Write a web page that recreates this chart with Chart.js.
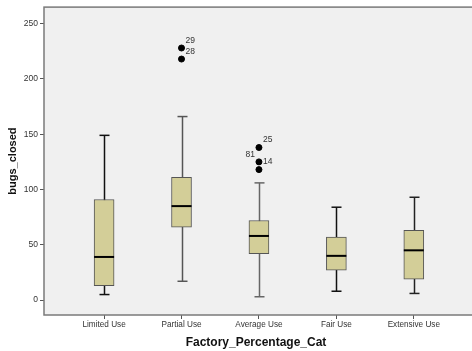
<!DOCTYPE html>
<html>
<head>
<meta charset="utf-8">
<script src="https://cdn.jsdelivr.net/npm/chart.js@4/dist/chart.umd.min.js"></script>
<style>
  body { margin: 0; background: #fff; }
</style>
</head>
<body>
<canvas id="boxChart" width="472" height="351"></canvas>
<script>
// Data
const categories = ['Limited Use', 'Partial Use', 'Average Use', 'Fair Use', 'Extensive Use'];
const whiskerLow = [5, 17, 3, 8, 6];
const q1 = [13, 66, 42, 27, 19];
const median = [39, 85, 58, 40, 45];
const q3 = [91, 111, 72, 57, 63];
const whiskerHigh = [149, 166, 106, 84, 93];

const outlierCat = [1, 1, 2, 2, 2];
const outlierValues = [228, 218, 138, 125, 118];
const outlierLabels = ['29', '28', '25', '81', '14'];
const outlierLabelLeft = [false, false, false, true, false];

const yTicks = [0, 50, 100, 150, 200, 250];

const whiskerColors = ['#111', '#555', '#666', '#111', '#222'];

// Whiskers, medians, plot background and outlier labels
const boxPlugin = {
  id: 'boxParts',
  beforeDraw(chart) {
    const { ctx, chartArea: a } = chart;
    ctx.save();
    ctx.fillStyle = '#f0f0f0';
    ctx.fillRect(a.left, a.top, chart.width - a.left, a.bottom - a.top);
    ctx.restore();
  },
  beforeDatasetsDraw(chart) {
    const { ctx } = chart;
    const x = chart.scales.x, y = chart.scales.y;
    ctx.save();
    ctx.lineWidth = 1.5;
    categories.forEach((c, i) => {
      const px = Math.round(x.getPixelForValue(i)) + 0.5;
      ctx.strokeStyle = whiskerColors[i];
      ctx.beginPath();
      ctx.moveTo(px, y.getPixelForValue(whiskerLow[i]));
      ctx.lineTo(px, y.getPixelForValue(whiskerHigh[i]));
      ctx.stroke();
      [whiskerLow[i], whiskerHigh[i]].forEach(v => {
        const py = y.getPixelForValue(v);
        ctx.beginPath();
        ctx.moveTo(px - 5, py);
        ctx.lineTo(px + 5, py);
        ctx.stroke();
      });
    });
    ctx.restore();
  },
  afterDatasetsDraw(chart) {
    const { ctx, chartArea: a } = chart;
    const x = chart.scales.x, y = chart.scales.y;
    ctx.save();
    ctx.strokeStyle = '#000';
    ctx.lineWidth = 2;
    categories.forEach((c, i) => {
      const px = x.getPixelForValue(i);
      const py = y.getPixelForValue(median[i]);
      ctx.beginPath();
      ctx.moveTo(px - 10, py);
      ctx.lineTo(px + 10, py);
      ctx.stroke();
    });
    // outlier case numbers
    const meta = chart.getDatasetMeta(1);
    ctx.font = '8.5px "Liberation Sans", Arial, sans-serif';
    ctx.fillStyle = '#333';
    ctx.textBaseline = 'middle';
    meta.data.forEach((pt, i) => {
      if (outlierLabelLeft[i]) {
        ctx.textAlign = 'right';
        ctx.fillText(outlierLabels[i], pt.x - 4, pt.y - 7.5);
      } else {
        ctx.textAlign = 'left';
        ctx.fillText(outlierLabels[i], pt.x + 4, pt.y - 7.5);
      }
    });
    // frame (right side runs off the picture)
    ctx.strokeStyle = '#7a7a7a';
    ctx.lineWidth = 1.5;
    ctx.strokeRect(a.left, a.top, chart.width + 10 - a.left, a.bottom - a.top);
    ctx.restore();
  }
};

new Chart(document.getElementById('boxChart'), {
  type: 'bar',
  data: {
    datasets: [{
      label: 'Box',
      data: categories.map((c, i) => ({ x: i, y: [q1[i], q3[i]] })),
      backgroundColor: '#d3ce98',
      borderColor: '#555',
      borderWidth: 1,
      borderSkipped: false,
      barThickness: 20
    }, {
      type: 'scatter',
      label: 'Outliers',
      data: outlierValues.map((v, i) => ({ x: outlierCat[i], y: v })),
      backgroundColor: '#000',
      borderColor: '#000',
      pointRadius: 3,
      pointHoverRadius: 3
    }]
  },
  options: {
    responsive: false,
    animation: false,
    layout: { padding: { top: 7, right: 0, left: 0, bottom: 0 } },
    plugins: {
      legend: { display: false },
      tooltip: { enabled: false }
    },
    scales: {
      x: {
        type: 'linear',
        offset: false,
        min: -0.776,
        max: 4.70,
        afterBuildTicks: s => { s.ticks = categories.map((c, i) => ({ value: i })); },
        afterFit: s => { s.height = 36; },
        ticks: {
          callback: v => categories[v],
          color: '#333',
          font: { family: '"Liberation Sans", Arial, sans-serif', size: 8.2 },
          padding: 1,
          maxRotation: 0,
          autoSkip: false
        },
        grid: { drawOnChartArea: false, offset: false, tickLength: 4, color: '#555' },
        border: { display: false },
        title: {
          display: true,
          text: 'Factory_Percentage_Cat',
          color: '#111',
          font: { family: '"Liberation Sans", Arial, sans-serif', size: 12, weight: 'bold' },
          padding: { top: 0, bottom: 1 }
        }
      },
      y: {
        min: -13.5,
        max: 265,
        afterBuildTicks: s => { s.ticks = yTicks.map(v => ({ value: v })); },
        afterFit: s => { s.width = 44; },
        ticks: {
          color: '#333',
          font: { family: '"Liberation Sans", Arial, sans-serif', size: 8.5 },
          padding: 2
        },
        grid: { drawOnChartArea: false, tickLength: 4, color: '#555' },
        border: { display: false },
        title: {
          display: true,
          text: 'bugs_closed',
          color: '#111',
          font: { family: '"Liberation Sans", Arial, sans-serif', size: 11, weight: 'bold' },
          padding: { top: 6, bottom: 0 }
        }
      }
    }
  },
  plugins: [boxPlugin]
});
</script>
</body>
</html>
